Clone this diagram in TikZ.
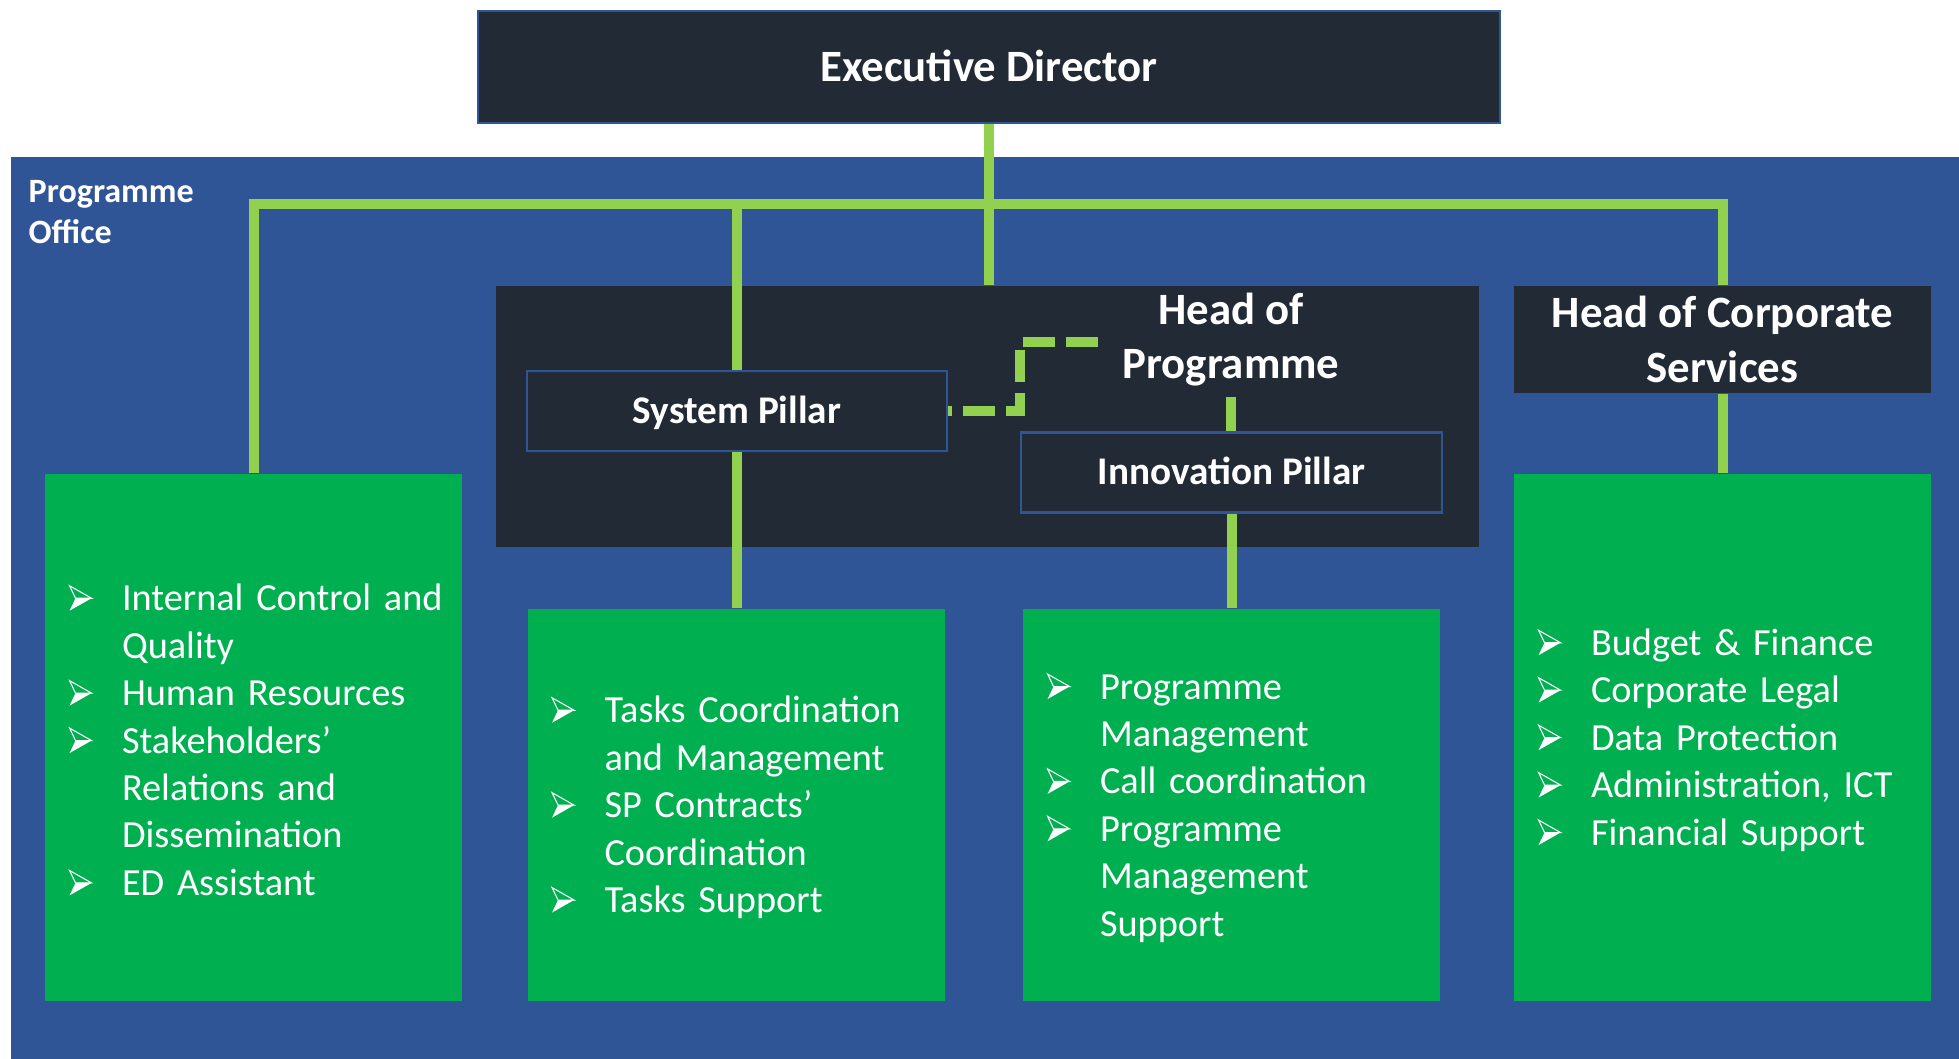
\documentclass[tikz,border=0pt]{standalone}
\usepackage{fontspec}
\setmainfont{Carlito}
\definecolor{navy}{HTML}{222A35}
\definecolor{panel}{HTML}{2F5597}
\definecolor{boxgreen}{HTML}{00B050}
\definecolor{linkgreen}{HTML}{92D050}
\newcommand\bul{\tikz[x=0.1mm,y=0.1mm,baseline=0pt,line width=0.3pt,line join=miter]{%
  \fill[white] (0,0) -- (22,12.5) -- (6,12.5) -- cycle;
  \draw[white] (0,25) -- (22,12.5) -- (6,12.5) -- cycle;}}
\newcommand\itm[1]{\par\noindent\leftskip=2.4mm\hangindent=5.3mm\hangafter=1\makebox[5.3mm][l]{\bul}#1}
\newcommand\itmend{\par\kern1.6mm}

\begin{document}
\begin{tikzpicture}[x=0.1mm,y=-0.1mm,
    head/.style={fill=navy,text=white,font=\bfseries\fontsize{12.75}{15.4}\selectfont,align=center,inner sep=0pt},
    pillar/.style={fill=navy,draw=panel,line width=0.6pt,text=white,font=\bfseries\fontsize{11.15}{13}\selectfont,
      text height=7pt,text depth=0pt,inner sep=0pt,minimum height=8mm},
    duties/.style={fill=boxgreen,text=white,font=\fontsize{10.9}{13.5}\selectfont,text width=41.7mm,align=left,inner sep=0pt},
    link/.style={draw=linkgreen,line width=1mm},
    dashlink/.style={link,dash pattern=on 3.2mm off 1.1mm}]
  \useasboundingbox (0,0) rectangle (1959,1059);
  \fill[panel] (11,157) rectangle (1959,1059);
  \node[anchor=north west,inner sep=0pt,align=left,text=white,font=\bfseries\fontsize{9.7}{11.7}\selectfont] (label) at (28,180) {Programme\\Office};

  \node[head,draw=panel,line width=0.7pt,minimum width=102.2mm,minimum height=11.2mm,text height=8pt,text depth=0pt] (ed) at (989,67) {Executive Director};
  \node[fill=navy,minimum width=98.3mm,minimum height=26.1mm] (hop) at (987.5,416.5) {};
  \node[head,fill=none,inner ysep=1mm] (hoptitle) at (1231,340) {Head of\\Programme};
  \node[head,minimum width=41.7mm,minimum height=10.7mm] (cshead) at (1722.5,339.5) {Head of Corporate\\Services};
  \node[pillar,minimum width=42mm] (sp) at (737,411) {System Pillar};
  \node[pillar,minimum width=42.1mm] (ip) at (1231.5,472.5) {Innovation Pillar};

  \node[duties,minimum height=52.7mm] (office) at (253.5,737.5) {%
    \itm{Internal Control and\newline Quality}\itm{Human Resources}%
    \itm{Stakeholders’\newline Relations and\newline Dissemination}\itm{ED Assistant}\itmend};
  \node[duties,minimum height=39.2mm] (spduties) at (736,805) {%
    \itm{Tasks Coordination\newline and Management}\itm{SP Contracts’\newline Coordination}\itm{Tasks Support}\itmend};
  \node[duties,minimum height=39.2mm] (ipduties) at (1231.5,805) {%
    \itm{Programme\newline Management}\itm{Call coordination}\itm{Programme\newline Management\newline Support}\itmend};
  \node[duties,minimum height=52.7mm] (csduties) at (1722.5,737.5) {%
    \itm{Budget \& Finance}\itm{Corporate Legal}\itm{Data Protection}\itm{Administration, ICT}\itm{Financial Support}\itmend};

  \coordinate (bus) at (ed.south |- 0,204);
  \coordinate (hopjoin) at (1098,342);
  \draw[link] (ed.south) -- (ed.south |- hop.north);
  \draw[link] (office.north) |- (bus) -| (cshead.north);
  \draw[link] (sp.north |- bus) -- (sp.north);
  \draw[link] (sp.south) -- (sp.south |- spduties.north);
  \draw[link] (hoptitle.south) -- (hoptitle.south |- ip.north);
  \draw[link] (ip.south) -- (ip.south |- ipduties.north);
  \draw[link] (cshead.south) -- (cshead.south |- csduties.north);
  \draw[dashlink] (hopjoin) -| (ip.west |- sp.east) -- (sp.east);
\end{tikzpicture}
\end{document}
